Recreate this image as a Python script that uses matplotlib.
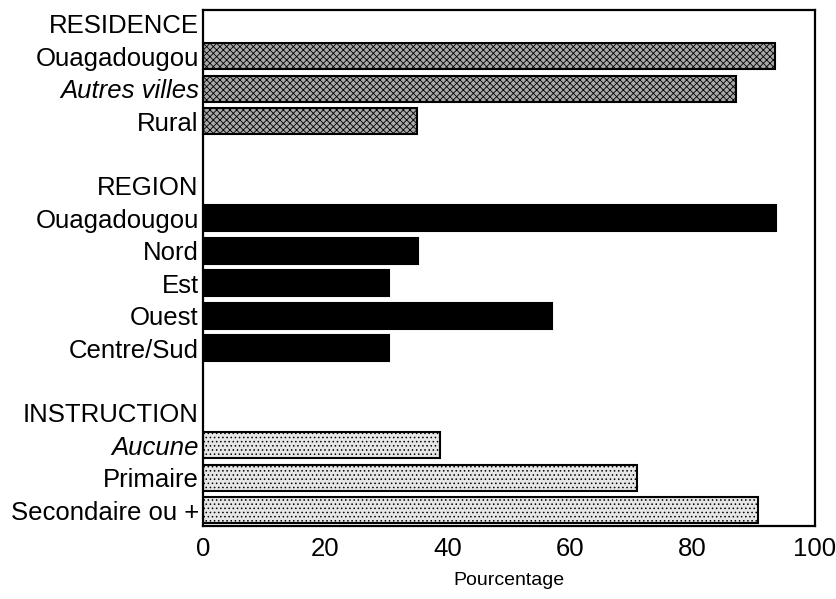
import matplotlib
matplotlib.use("Agg")
import matplotlib.pyplot as plt

plt.rcParams['font.family'] = ['Liberation Sans', 'DejaVu Sans']
plt.rcParams['hatch.linewidth'] = 0.6

residence_labels = ["Ouagadougou", "Autres villes", "Rural"]
residence_values = [93.5, 87.1, 35.0]
region_labels = ["Ouagadougou", "Nord", "Est", "Ouest", "Centre/Sud"]
region_values = [93.6, 35.1, 30.4, 57.0, 30.4]
instruction_labels = ["Aucune", "Primaire", "Secondaire ou +"]
instruction_values = [38.8, 70.9, 90.7]
group_titles = ["RESIDENCE", "REGION", "INSTRUCTION"]
italic_labels = ["Autres villes", "Aucune"]
x_ticks = [0, 20, 40, 60, 80, 100]

groups = [
    (group_titles[0], residence_labels, residence_values,
     dict(facecolor='#a8a8a8', hatch='xxxxx', edgecolor='black')),
    (group_titles[1], region_labels, region_values,
     dict(facecolor='black', edgecolor='black')),
    (group_titles[2], instruction_labels, instruction_values,
     dict(facecolor='#e6e6e6', hatch='....', edgecolor='black')),
]

fig = plt.figure(figsize=(8.36, 5.99), dpi=100)
ax = fig.add_axes([203/836, 1 - 526/599, (815 - 203)/836, (526 - 10)/599])

ytick_pos, ytick_lab = [], []
row = 0
for gi, (title, labels, values, style) in enumerate(groups):
    if gi > 0:
        row += 1
    ytick_pos.append(row)
    ytick_lab.append(title)
    row += 1
    for lab, val in zip(labels, values):
        ax.barh(row, val, height=0.8, linewidth=1.5, **style)
        ytick_pos.append(row)
        ytick_lab.append(lab)
        row += 1
last = row - 1

ax.set_yticks(ytick_pos)
ax.set_yticklabels(ytick_lab, fontsize=18.5)
for t in ax.get_yticklabels():
    if t.get_text() in italic_labels:
        t.set_style('italic')
ax.set_ylim(last + 0.49, -0.43)
ax.set_xlim(0, 100)
ax.set_xticks(x_ticks)
ax.set_xticklabels([str(v) for v in x_ticks], fontsize=18.5)
ax.tick_params(axis='both', length=0)
ax.tick_params(axis='y', pad=3)
ax.tick_params(axis='x', pad=8)
ax.set_xlabel("Pourcentage", fontsize=14, labelpad=8)
for s in ax.spines.values():
    s.set_linewidth(1.6)
    s.set_color('black')

fig.savefig("out.png", dpi=100)
